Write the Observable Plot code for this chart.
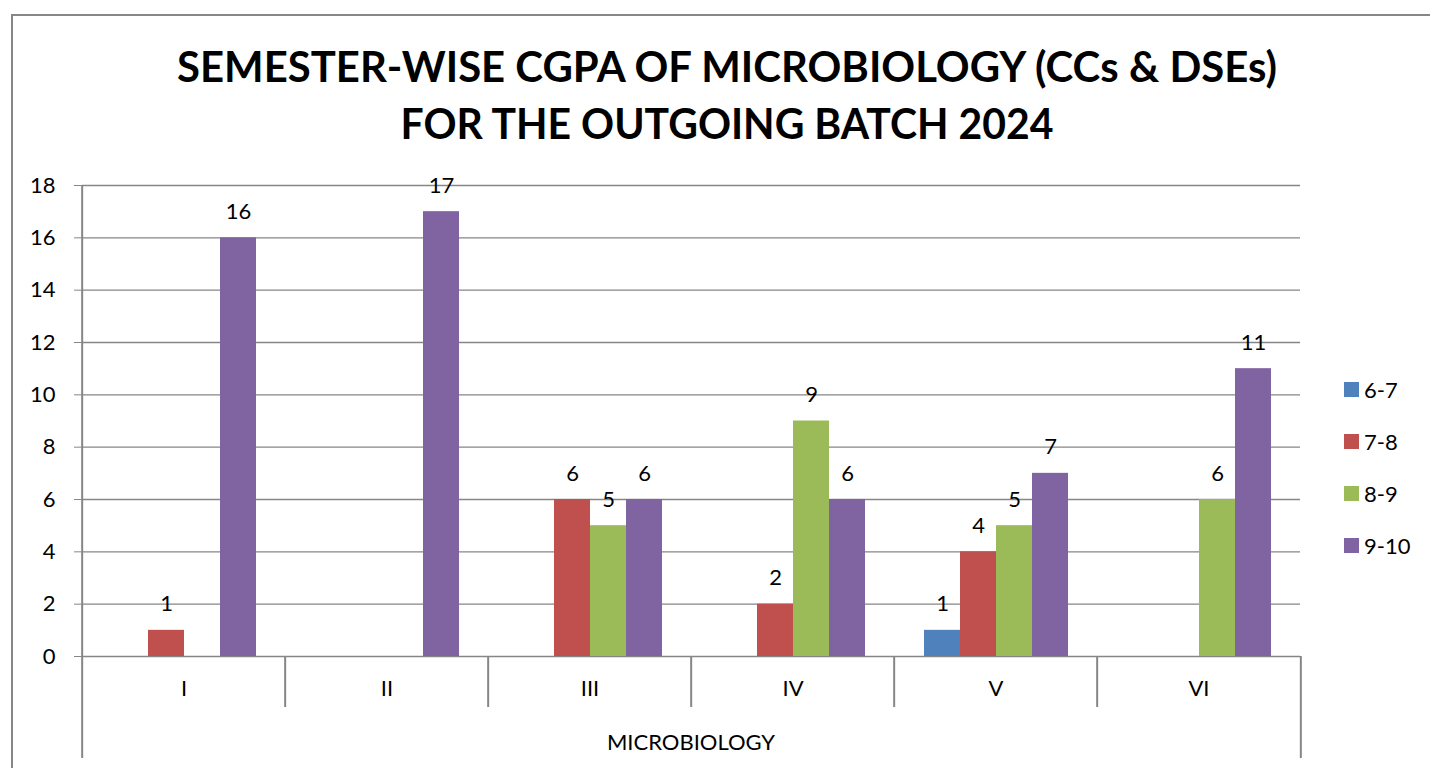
<!DOCTYPE html>
<html>
<head>
<meta charset="utf-8">
<script src="https://cdn.jsdelivr.net/npm/d3@7"></script>
<script src="https://cdn.jsdelivr.net/npm/@observablehq/plot@0.6"></script>
<style>
  html, body { margin: 0; padding: 0; background: #fff; }
  #wrap { position: relative; width: 1430px; height: 768px; overflow: hidden; font-family: Lato, "Open Sans", sans-serif; }
  #border { position: absolute; left: 11px; top: 14px; width: 1440px; height: 800px; border: 2px solid #878787; box-sizing: border-box; }
  #chart { position: absolute; left: 0; top: 0; }
  #title { position: absolute; left: 0; top: 0; }
  #xlabel { position: absolute; left: 0; width: 1382px; top: 728px; text-align: center; font-size: 22px; color: #000; }
  #legend { position: absolute; left: 1344px; top: 363px; font-size: 22px; color: #000; }
  .item { display: flex; align-items: center; height: 52px; margin-top: 0; }
  .sw { width: 15px; height: 15px; margin-right: 5px; }
</style>
</head>
<body>
<div id="wrap">
  <div id="border"></div>
  <div id="chart"></div>
  <svg id="title" width="1430" height="160"></svg>
  <div id="xlabel"></div>
  <div id="legend"></div>
</div>
<script>
const titleLines = ["SEMESTER-WISE CGPA OF MICROBIOLOGY (CCs & DSEs)", "FOR THE OUTGOING BATCH 2024"];
const axisTitle = "MICROBIOLOGY";
const semesters = ["I", "II", "III", "IV", "V", "VI"];
const series = ["6-7", "7-8", "8-9", "9-10"];
const v6_7 = [0, 0, 0, 0, 1, 0];
const v7_8 = [1, 0, 6, 2, 4, 0];
const v8_9 = [0, 0, 5, 9, 5, 6];
const v9_10 = [16, 17, 6, 6, 7, 11];
const colors = ["#4F81BD", "#C0504D", "#9BBB59", "#8064A2"];
const yTicks = [0, 2, 4, 6, 8, 10, 12, 14, 16, 18];

const seriesValues = [v6_7, v7_8, v8_9, v9_10];
const rows = [];
semesters.forEach((s, i) => series.forEach((k, j) => rows.push({semester: s, series: k, value: seriesValues[j][i]})));
const shown = rows.filter(d => d.value > 0);

const W = 1430, H = 768, mL = 80, mR = 128, mT = 185, mB = 112;
const step = (W - mL - mR) / semesters.length;
const grey = "#868686";

const plot = Plot.plot({
  width: W, height: H,
  marginLeft: mL, marginRight: mR, marginTop: mT, marginBottom: mB,
  style: {fontFamily: "Lato, 'Open Sans', sans-serif", fontSize: "22px", color: "#000", background: "transparent", overflow: "visible"},
  fx: {domain: semesters, padding: 0, label: null},
  x: {domain: series, paddingInner: 0, paddingOuter: 0.757, axis: null},
  y: {domain: [0, 18], axis: null},
  color: {domain: series, range: colors},
  marks: [
    Plot.ruleY(yTicks, {stroke: grey, strokeWidth: 1.3}),
    Plot.barY(shown, {fx: "semester", x: "series", y: "value", fill: "series"}),
    Plot.text(shown, {fx: "semester", x: "series", y: "value", text: d => String(d.value), dy: -26, fill: "#000", fontSize: 22}),
    Plot.axisY({ticks: yTicks, tickSize: 8, tickPadding: 19, stroke: grey, fill: "#000", fontSize: 22, label: null, tickFormat: d => String(d)}),
    Plot.axisFx({anchor: "bottom", tickSize: 0, tickPadding: 24, fill: "#000", fontSize: 22, label: null}),
    Plot.ruleX([semesters[0]], {fx: d => d, x: null, dx: -step / 2, insetBottom: -102, stroke: grey, strokeWidth: 2}),
    Plot.ruleX(semesters.slice(1), {fx: d => d, x: null, y1: 0, y2: 0, dx: -step / 2, insetBottom: -51, stroke: grey, strokeWidth: 2}),
    Plot.ruleX([semesters[semesters.length - 1]], {fx: d => d, x: null, y1: 0, y2: 0, dx: step / 2, insetBottom: -102, stroke: grey, strokeWidth: 2})
  ]
});
document.getElementById("chart").appendChild(plot);

// Title
const tsvg = d3.select("#title");
const tWidths = [1100, 653];
titleLines.forEach((t, i) => {
  tsvg.append("text")
    .attr("x", 727).attr("y", 82 + i * 57)
    .attr("text-anchor", "middle")
    .attr("font-family", "Lato, 'Open Sans', sans-serif")
    .attr("font-weight", "bold")
    .attr("font-size", 42)
    .attr("textLength", tWidths[i])
    .attr("lengthAdjust", "spacingAndGlyphs")
    .attr("fill", "#000")
    .text(t);
});

document.getElementById("xlabel").textContent = axisTitle;
document.getElementById("xlabel").style.width = (mL + W - mR) + "px";

const leg = d3.select("#legend");
series.forEach((s, i) => {
  const it = leg.append("div").attr("class", "item");
  it.append("div").attr("class", "sw").style("background", colors[i]);
  it.append("span").text(s);
});
</script>
</body>
</html>
